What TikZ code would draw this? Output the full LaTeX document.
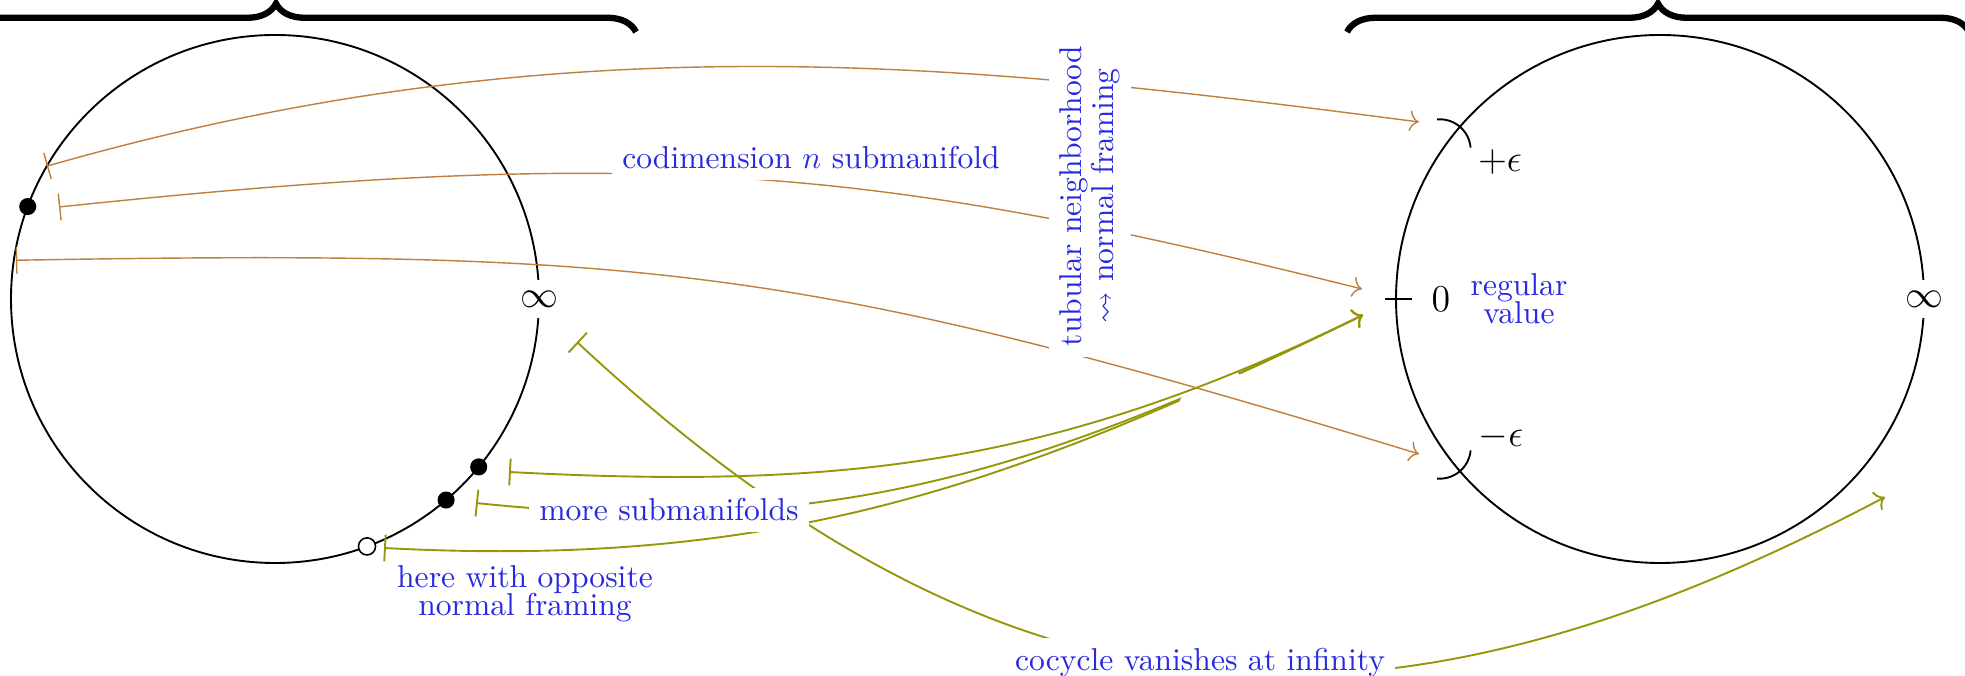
\documentclass[tikz,border=0pt]{standalone}
\usepackage{amssymb}
\usetikzlibrary{arrows.meta,decorations.pathreplacing}
\definecolor{lblue}{RGB}{40,40,225}
\definecolor{arrbrown}{RGB}{191,128,64}
\definecolor{arrolive}{RGB}{150,150,10}
\begin{document}
\begin{tikzpicture}[x=0.3165pt,y=0.3165pt,
  lbl/.style={text=lblue, font=\fontsize{10}{9}\selectfont, align=center, inner sep=3.33pt},
  cover/.style={lbl, fill=white},
  big/.style={font=\fontsize{13}{15}\selectfont, inner sep=3.33pt},
  epsl/.style={font=\fontsize{12}{14}\selectfont, inner sep=1pt},
  brn/.style={draw=arrbrown, line width=0.45pt},
  olv/.style={draw=arrolive, line width=0.6pt},
  mapar/.style={{Bar[width=8.5pt]}-{To[length=3pt,width=6.5pt]}},
  bigbrace/.style={decorate, decoration={brace, amplitude=9pt}, line width=2pt},
  sphere/.style={draw=black, line width=0.6pt},
  fulldot/.style={circle, fill=black, inner sep=0pt, minimum size=5.4pt},
  opendot/.style={circle, draw=black, fill=white, line width=0.5pt, inner sep=0pt, minimum size=5.4pt},
  epsmark/.style={draw=black, line width=0.6pt}
]
\path[use as bounding box, clip] (0,0) rectangle (1965,676);
% braces
\coordinate (bl1) at (-84,644);
\coordinate (bl2) at (636,644);
\coordinate (br1) at (1347,644);
\coordinate (br2) at (1969,644);
\draw[bigbrace] (bl1) -- (bl2);
\draw[bigbrace] (br1) -- (br2);
% spheres
\coordinate (cL) at (275,377);
\coordinate (cR) at (1660,377);
\draw[sphere] (cL) circle[radius=264];
\draw[sphere] (cR) circle[radius=264];
% end points
\coordinate (o1s) at ([shift={(149.8:264)}]cL);
\coordinate (o2s) at (59,469);
\coordinate (o3s) at ([shift={(171.5:262)}]cL);
\coordinate (o1e) at (1419,554);
\coordinate (o2e) at (1362,387);
\coordinate (o3e) at (1419,222);
\coordinate (infbar) at (577,334);
\coordinate (b1) at (509,204);
\coordinate (b2) at (476,173);
\coordinate (b3) at (384,128);
\coordinate (tip) at (1363,361);
\coordinate (inftip) at (1885,179);
% olive maps
\draw[olv, mapar] (b2) .. controls +(-6:355) and +(206:355) .. (tip);
\draw[olv, mapar] (b3) .. controls +(-3:394) and +(206:394) .. (tip);
\fill[white, rotate around={27:(1210,285)}] (1210,285) ellipse[x radius=34, y radius=13];
\draw[olv, mapar] (b1) .. controls +(-3:340) and +(206:340) .. (tip);
\draw[olv, mapar] (infbar) .. controls +(-43:600) and +(207.8:560) .. (inftip);
% brown maps
\draw[brn, mapar] (o1s) .. controls +(16:540) and +(172.6:450) .. (o1e);
\draw[brn, mapar] (o2s) .. controls +(6:600) and +(166:500) .. (o2e);
\draw[brn, mapar] (o3s) .. controls +(1:637) and +(163:637) .. (o3e);
% covering labels
\node[cover] (codim) at (811,518) {codimension $n$ submanifold};
\node[cover, rotate=90, font=\fontsize{10}{10}\selectfont] (tub) at (1090,480) {tubular neighborhood\\$\rightsquigarrow$ normal framing};
\node[cover] (more) at (669,166) {more submanifolds};
\node[cover] (cocy) at (1200,13) {cocycle vanishes at infinity};
\node[lbl] (opp) at (525,82) {here with opposite\\normal framing};
\node[lbl] (reg) at (1519,377) {regular\\value};
% infinity points
\node[big, fill=white] (infL) at (539,377) {$\infty$};
\node[big, fill=white] (infR) at (1924,377) {$\infty$};
% dots
\node[fulldot] (dA) at ([shift={(159.5:264)}]cL) {};
\node[fulldot] (d1) at ([shift={(-39.5:264)}]cL) {};
\node[fulldot] (d2) at ([shift={(-49.6:264)}]cL) {};
\node[opendot] (d3) at ([shift={(-69.6:264)}]cL) {};
% regular value marks
\coordinate (t1) at (1385,377);
\coordinate (t2) at (1412,377);
\draw[epsmark] (t1) -- (t2);
\node[big] (zero) at (1441,377) {$0$};
\coordinate (pec) at (1439.7,525.7);
\coordinate (mec) at (1439.7,228.3);
\draw[epsmark] ([shift={(95:31)}]pec) arc[start angle=95, end angle=5, radius=31];
\draw[epsmark] ([shift={(-5:31)}]mec) arc[start angle=-5, end angle=-95, radius=31];
\node[epsl] (peps) at (1500,514) {$+\epsilon$};
\node[epsl] (meps) at (1501,239) {$-\epsilon$};
\end{tikzpicture}
\end{document}
